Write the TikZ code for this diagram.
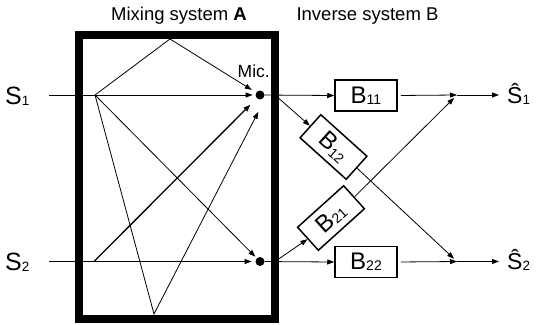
\documentclass[tikz,border=0pt]{standalone}
\usepackage{fontspec}
\setmainfont{Liberation Sans}
\usetikzlibrary{arrows.meta,calc}
\newcommand\fsz[1]{\fontsize{#1}{#1}\selectfont}
\begin{document}
\begin{tikzpicture}[x=1pt,y=-1pt,
  arr/.style={-{Triangle[length=7pt,width=5pt]}, line width=0.8pt},
  bbox/.style={draw, line width=1.5pt, minimum width=62pt, minimum height=31pt, inner sep=0pt, fill=white},
  dot/.style={circle, fill, inner sep=0pt, minimum size=9pt},
  lbl/.style={inner sep=0pt, anchor=base west},
  frame/.style={line width=8pt}
]
\useasboundingbox (0,0) rectangle (538,324);
% mixing system frame
\draw[frame] (79,34.5) rectangle (275,319);
% titles
\node[inner sep=0pt, anchor=base] (tA) at (179,20) {\fsz{18.5}Mixing system \textbf{A}};
\node[inner sep=0pt, anchor=base] (tB) at (367.5,20) {\fsz{18.5}Inverse system B};
% inputs
\node[lbl] (S1) at (5,104) {{\fsz{25}S}{\fsz{13.5}\raisebox{-1pt}{1}}};
\node[lbl] (S2) at (5,270) {{\fsz{25}S}{\fsz{13.5}\raisebox{-1pt}{2}}};
\coordinate (in1) at (49,95);
\coordinate (in2) at (49,261.5);
\coordinate (s1) at (95,95);
\coordinate (s2) at (94,261.5);
\coordinate (r1) at (170,39);
\coordinate (r2) at (154,314);
% microphones
\node[dot] (m1) at (260,95) {};
\node[dot] (m2) at (260,261.5) {};
\coordinate (m1aim) at (267,95);
\node[lbl] (mic) at (237.5,77) {\fsz{17.5}Mic.};
% paths inside A
\draw[arr, shorten >=2.7pt] (in1) -- (m1);
\draw[arr, shorten >=5pt] (s1) -- (r1) -- (m1);
\draw[arr, shorten >=19pt] (s1) -- (r2) -- (m1aim);
\draw[arr, shorten >=2pt] (s1) -- (m2);
\draw[arr, shorten >=3.7pt] (in2) -- (m2);
\draw[arr, line width=1.3pt, shorten >=9pt] (s2) -- (m1);
% inverse system
\coordinate (j1) at (275,95);
\coordinate (j2) at (275,261.5);
\node[bbox] (b11) at (366,95.5) {{\fsz{24}B}{\fsz{14}\raisebox{-1pt}{11}}};
\node[bbox, rotate=-42] (b12) at (333.5,147) {{\fsz{24}B}{\fsz{14}\raisebox{-3pt}{12}}};
\node[bbox, rotate=42] (b21) at (331,218) {{\fsz{24}B}{\fsz{14}\raisebox{-1pt}{21}}};
\node[bbox] (b22) at (366,262) {{\fsz{24}B}{\fsz{14}\raisebox{-1pt}{22}}};
\coordinate (sum1) at (457,95);
\coordinate (sum2) at (457,261.5);
\coordinate (o1) at (499,95);
\coordinate (o2) at (499,261.5);
\draw[arr] (m1) -- (b11.west);
\draw[arr] (j1) -- (b12.west);
\draw[arr] (m2) -- (b22.west);
\draw[arr] (j2) -- (b21.west);
\draw[arr, shorten <=3pt] (b11.east) -- (sum1);
\draw[arr, shorten <=3pt] (b22.east) -- (sum2);
\draw[arr, shorten >=4pt] (b21.east) -- (sum1);
\draw[arr, shorten >=4pt] (b12.east) -- (sum2);
\draw[arr] (sum1) -- (o1);
\draw[arr] (sum2) -- (o2);
\node[lbl] (h1) at (507,103) {{\fsz{23}Ŝ}{\fsz{13.5}\raisebox{-1pt}{1}}};
\node[lbl] (h2) at (507,269.5) {{\fsz{23}Ŝ}{\fsz{13.5}\raisebox{-1pt}{2}}};
\end{tikzpicture}
\end{document}
